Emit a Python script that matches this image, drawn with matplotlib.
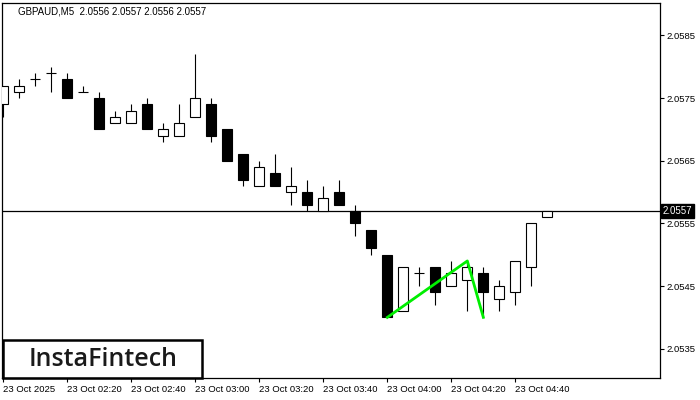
import matplotlib
matplotlib.use("Agg")
import matplotlib.pyplot as plt
from matplotlib.patches import Rectangle
import matplotlib.transforms as mtransforms

# 5 minute candles, 23 Oct 02:00 .. 04:50
opens  = [2.0574, 2.0576, 2.0578, 2.0579, 2.0578, 2.0576, 2.0575, 2.0571, 2.0571, 2.0574,
          2.0569, 2.0569, 2.0572, 2.0574, 2.0570, 2.0566, 2.0561, 2.0563, 2.0560, 2.0560,
          2.0557, 2.0560, 2.0557, 2.0554, 2.0550, 2.0541, 2.0547, 2.0548, 2.0545, 2.0546,
          2.0547, 2.0543, 2.0544, 2.0548, 2.0556]
highs  = [2.0577, 2.0578, 2.0579, 2.0580, 2.0579, 2.0577, 2.0576, 2.0573, 2.0574, 2.0575,
          2.0571, 2.0574, 2.0582, 2.0575, 2.0570, 2.0566, 2.0565, 2.0566, 2.0564, 2.0562,
          2.0561, 2.0562, 2.0558, 2.0554, 2.0550, 2.0548, 2.0548, 2.0548, 2.0549, 2.0549,
          2.0548, 2.0546, 2.0549, 2.0555, 2.0557]
lows   = [2.0572, 2.0575, 2.0577, 2.0576, 2.0575, 2.0576, 2.0570, 2.0571, 2.0571, 2.0570,
          2.0568, 2.0569, 2.0572, 2.0568, 2.0565, 2.0561, 2.0561, 2.0561, 2.0558, 2.0557,
          2.0557, 2.0558, 2.0553, 2.0550, 2.0540, 2.0541, 2.0545, 2.0542, 2.0545, 2.0541,
          2.0540, 2.0541, 2.0542, 2.0545, 2.0556]
closes = [2.0577, 2.0577, 2.0578, 2.0579, 2.0575, 2.0576, 2.0570, 2.0572, 2.0573, 2.0570,
          2.0570, 2.0571, 2.0575, 2.0569, 2.0565, 2.0562, 2.0564, 2.0561, 2.0561, 2.0558,
          2.0559, 2.0558, 2.0555, 2.0551, 2.0540, 2.0548, 2.0547, 2.0544, 2.0547, 2.0548,
          2.0544, 2.0545, 2.0549, 2.0555, 2.0557]

tick_idx = [0, 4, 8, 12, 16, 20, 24, 28, 32]
tick_labels = ["23 Oct 2025", "23 Oct 02:20", "23 Oct 02:40", "23 Oct 03:00", "23 Oct 03:20",
               "23 Oct 03:40", "23 Oct 04:00", "23 Oct 04:20", "23 Oct 04:40"]
price_ticks = [2.0535, 2.0545, 2.0555, 2.0565, 2.0575, 2.0585]
last_price = 2.0557
title = "GBPAUD,M5  2.0556 2.0557 2.0556 2.0557"

# pattern line (index, price)
pattern_x = [24, 29, 30]
pattern_y = [2.0540, 2.0549, 2.0540]

plt.rcParams["font.family"] = ["Liberation Sans", "DejaVu Sans"]

fig = plt.figure(figsize=(7, 4), dpi=100)
ax = fig.add_axes([2 / 700, 22 / 400, 658 / 700, 375 / 400])

w = 0.62
for i in range(len(opens)):
    o, h, l, c = opens[i], highs[i], lows[i], closes[i]
    ax.vlines(i, l, h, color="black", lw=0.8, zorder=2)
    if o == c:
        ax.hlines(o, i - w / 2, i + w / 2, color="black", lw=0.8, zorder=3)
    else:
        face = "white" if c > o else "black"
        ax.bar(i, abs(c - o), bottom=min(o, c), width=w, color=face,
               edgecolor="black", lw=0.8, zorder=3)

ax.plot(pattern_x, pattern_y, color="#00ee00", lw=2.0, zorder=4)
ax.axhline(last_price, color="black", lw=0.9, zorder=1)

ax.set_xlim(-0.08, 41.04)
ax.set_ylim(2.053032, 2.059017)

ax.yaxis.tick_right()
ax.set_yticks(price_ticks)
ax.set_yticklabels(["%.4f" % p for p in price_ticks])
ax.set_xticks(tick_idx)
ax.set_xticklabels(tick_labels, ha="left")
ax.tick_params(axis="both", labelsize=6.8, length=3, width=0.8, pad=2, colors="black")
for s in ax.spines.values():
    s.set_linewidth(0.9)

# current price tag on the axis
trans = mtransforms.blended_transform_factory(ax.transAxes, ax.transData)
ax.text(1.004, last_price, "2.0557", transform=trans, fontsize=7, color="white",
        va="center", ha="left",
        bbox=dict(boxstyle="square,pad=0.2", fc="black", ec="black"))

fig.text(18 / 700, 1 - 11 / 400, title, fontsize=7, color="black", va="center", ha="left")

# logo
ax.add_patch(Rectangle((1 / 658, 0.0), 199 / 658, 38 / 375, transform=ax.transAxes,
                       fill=False, ec="black", lw=1.8, zorder=5, clip_on=False))
ax.text(101 / 658, 19 / 375, "InstaFintech", transform=ax.transAxes, fontsize=18,
        family="Open Sans", fontweight="semibold", color="#1a1a1a",
        ha="center", va="center", zorder=6)

fig.savefig("out.png", dpi=100)
